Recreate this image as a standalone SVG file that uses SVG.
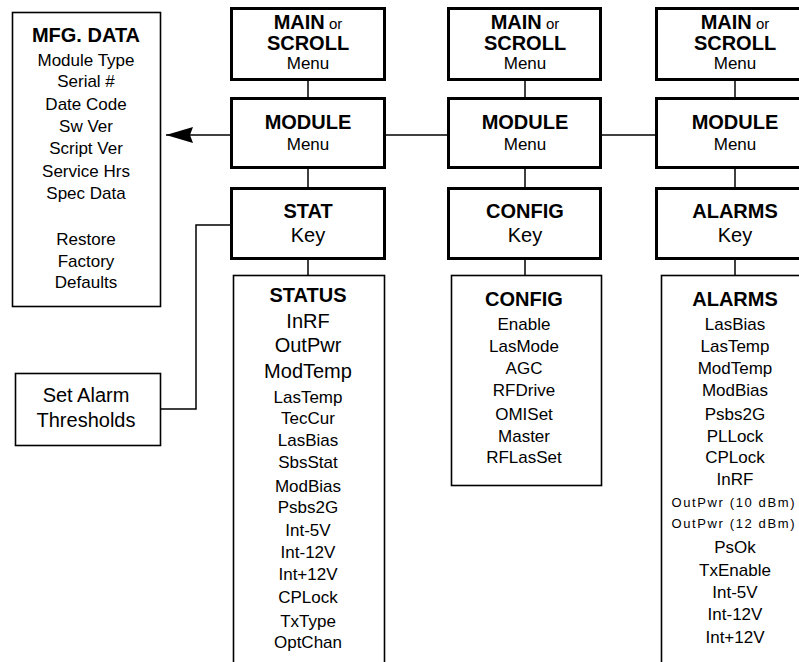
<svg xmlns="http://www.w3.org/2000/svg" width="799" height="662" viewBox="0 0 799 662">
<style>
text{font-family:"Liberation Sans",Arial,sans-serif;fill:#000;text-anchor:middle}
.b{font-weight:bold;font-size:20px}
.r{font-size:17px}
.m{font-size:17px}
.l{font-size:20px}
.o{font-size:15px}
.s{font-size:13px}
.thick{fill:#fff;stroke:#000;stroke-width:3}
.thin{fill:#fff;stroke:#000;stroke-width:1.6}
.c{fill:none;stroke:#000;stroke-width:1.5}
</style>
<defs>
<marker id="ah" viewBox="0 0 28 16" refX="0" refY="8" markerWidth="28" markerHeight="16" markerUnits="userSpaceOnUse" orient="auto">
<path d="M0,8 L27,0 L24,8 L27,16 Z" fill="#000"/>
</marker>
</defs>
<g id="connectors">
<line class="c" x1="166" y1="135" x2="230" y2="135" marker-start="url(#ah)"/>
<line class="c" x1="386" y1="135" x2="447" y2="135"/>
<line class="c" x1="602" y1="135" x2="655" y2="135"/>
<line class="c" x1="308" y1="81" x2="308" y2="97"/>
<line class="c" x1="308" y1="169" x2="308" y2="187"/>
<line class="c" x1="308" y1="260" x2="308" y2="275"/>
<line class="c" x1="525" y1="81" x2="525" y2="97"/>
<line class="c" x1="525" y1="169" x2="525" y2="187"/>
<line class="c" x1="525" y1="260" x2="525" y2="275"/>
<line class="c" x1="735" y1="81" x2="735" y2="97"/>
<line class="c" x1="735" y1="169" x2="735" y2="187"/>
<line class="c" x1="735" y1="260" x2="735" y2="275"/>
<polyline class="c" points="230,225 196,225 196,409 161,409"/>
</g>
<g id="mfg-data">
<rect class="thin" x="12.5" y="12.5" width="148" height="294"/>
<text class="b" x="86" y="42">MFG. DATA</text>
<text class="r" x="86" y="66">Module Type</text>
<text class="r" x="86" y="87">Serial #</text>
<text class="r" x="86" y="110">Date Code</text>
<text class="r" x="86" y="132">Sw Ver</text>
<text class="r" x="86" y="154">Script Ver</text>
<text class="r" x="86" y="177">Service Hrs</text>
<text class="r" x="86" y="199">Spec Data</text>
<text class="r" x="86" y="245">Restore</text>
<text class="r" x="86" y="267">Factory</text>
<text class="r" x="86" y="288">Defaults</text>
</g>
<g id="set-alarm">
<rect class="thin" x="15.5" y="373.5" width="145" height="72"/>
<text class="l" x="86" y="402">Set Alarm</text>
<text class="l" x="86" y="427">Thresholds</text>
</g>
<g id="main1">
<rect class="thick" x="231.5" y="8.5" width="153" height="71"/>
<text x="308" y="29"><tspan class="b">MAIN</tspan><tspan class="o"> or</tspan></text>
<text class="b" x="308" y="50">SCROLL</text>
<text class="m" x="308" y="69">Menu</text>
</g>
<g id="module1">
<rect class="thick" x="231.5" y="98.5" width="153" height="69"/>
<text class="b" x="308" y="129">MODULE</text>
<text class="m" x="308" y="150">Menu</text>
</g>
<g id="stat-key">
<rect class="thick" x="231.5" y="188.5" width="153" height="70"/>
<text class="b" x="308" y="218">STAT</text>
<text class="l" x="308" y="242">Key</text>
</g>
<g id="status-list">
<rect class="thin" x="233.5" y="275.5" width="151" height="400"/>
<text class="b" x="308" y="302">STATUS</text>
<text class="l" x="308" y="328">InRF</text>
<text class="l" x="308" y="352">OutPwr</text>
<text class="l" x="308" y="378">ModTemp</text>
<text class="r" x="308" y="403">LasTemp</text>
<text class="r" x="308" y="424">TecCur</text>
<text class="r" x="308" y="446">LasBias</text>
<text class="r" x="308" y="468">SbsStat</text>
<text class="r" x="308" y="492">ModBias</text>
<text class="r" x="308" y="513">Psbs2G</text>
<text class="r" x="308" y="536">Int-5V</text>
<text class="r" x="308" y="558">Int-12V</text>
<text class="r" x="308" y="580">Int+12V</text>
<text class="r" x="308" y="603">CPLock</text>
<text class="r" x="308" y="627">TxType</text>
<text class="r" x="308" y="648">OptChan</text>
</g>
<g id="main2">
<rect class="thick" x="448.5" y="8.5" width="152" height="71"/>
<text x="525" y="29"><tspan class="b">MAIN</tspan><tspan class="o"> or</tspan></text>
<text class="b" x="525" y="50">SCROLL</text>
<text class="m" x="525" y="69">Menu</text>
</g>
<g id="module2">
<rect class="thick" x="448.5" y="98.5" width="152" height="69"/>
<text class="b" x="525" y="129">MODULE</text>
<text class="m" x="525" y="150">Menu</text>
</g>
<g id="config-key">
<rect class="thick" x="448.5" y="188.5" width="152" height="70"/>
<text class="b" x="525" y="218">CONFIG</text>
<text class="l" x="525" y="242">Key</text>
</g>
<g id="config-list">
<rect class="thin" x="451.5" y="275.5" width="150" height="210"/>
<text class="b" x="524" y="306">CONFIG</text>
<text class="r" x="524" y="330">Enable</text>
<text class="r" x="524" y="352">LasMode</text>
<text class="r" x="524" y="374">AGC</text>
<text class="r" x="524" y="396">RFDrive</text>
<text class="r" x="524" y="420">OMISet</text>
<text class="r" x="524" y="442">Master</text>
<text class="r" x="524" y="463">RFLasSet</text>
</g>
<g id="main3">
<rect class="thick" x="656.5" y="8.5" width="152" height="71"/>
<text x="735" y="29"><tspan class="b">MAIN</tspan><tspan class="o"> or</tspan></text>
<text class="b" x="735" y="50">SCROLL</text>
<text class="m" x="735" y="69">Menu</text>
</g>
<g id="module3">
<rect class="thick" x="656.5" y="98.5" width="152" height="69"/>
<text class="b" x="735" y="129">MODULE</text>
<text class="m" x="735" y="150">Menu</text>
</g>
<g id="alarms-key">
<rect class="thick" x="656.5" y="188.5" width="152" height="70"/>
<text class="b" x="735" y="218">ALARMS</text>
<text class="l" x="735" y="242">Key</text>
</g>
<g id="alarms-list">
<rect class="thin" x="661.5" y="275.5" width="160" height="400"/>
<text class="b" x="735" y="306">ALARMS</text>
<text class="r" x="735" y="330">LasBias</text>
<text class="r" x="735" y="352">LasTemp</text>
<text class="r" x="735" y="374">ModTemp</text>
<text class="r" x="735" y="396">ModBias</text>
<text class="r" x="735" y="420">Psbs2G</text>
<text class="r" x="735" y="442">PLLock</text>
<text class="r" x="735" y="463">CPLock</text>
<text class="r" x="735" y="485">InRF</text>
<text class="s" x="733" y="507" textLength="123" lengthAdjust="spacing">OutPwr (10 dBm)</text>
<text class="s" x="733" y="528" textLength="123" lengthAdjust="spacing">OutPwr (12 dBm)</text>
<text class="r" x="735" y="553">PsOk</text>
<text class="r" x="735" y="576">TxEnable</text>
<text class="r" x="735" y="598">Int-5V</text>
<text class="r" x="735" y="620">Int-12V</text>
<text class="r" x="735" y="643">Int+12V</text>
</g>
</svg>
